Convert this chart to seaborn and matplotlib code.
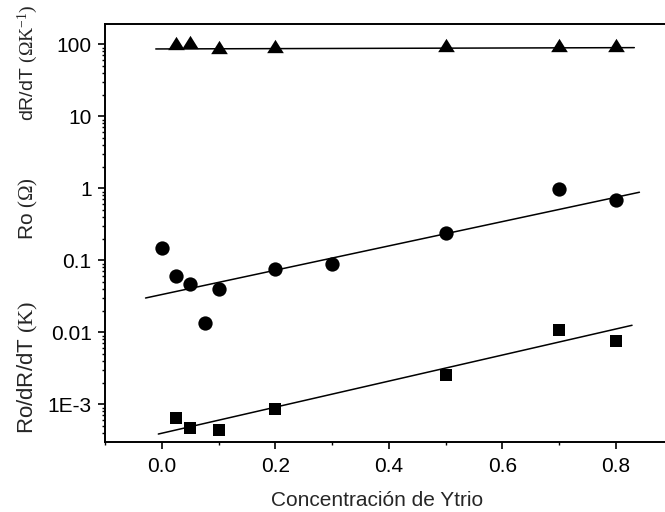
import numpy as np
import pandas as pd
import matplotlib
matplotlib.use('Agg')
import matplotlib.pyplot as plt
import seaborn as sns
from matplotlib.ticker import FixedLocator, FixedFormatter, LogLocator, NullFormatter, MultipleLocator

# ---- data ----
x_tri = [0.025, 0.05, 0.1, 0.2, 0.5, 0.7, 0.8]
y_tri = [103, 109, 92.6, 95.7, 97, 98.8, 98.5]
x_circ = [0.0, 0.025, 0.05, 0.075, 0.1, 0.2, 0.3, 0.5, 0.7, 0.8]
y_circ = [0.147, 0.0605, 0.0469, 0.0136, 0.0395, 0.0764, 0.089, 0.237, 0.986, 0.695]
x_sq = [0.025, 0.05, 0.1, 0.2, 0.5, 0.7, 0.8]
y_sq = [6.4e-4, 4.73e-4, 4.44e-4, 8.5e-4, 2.55e-3, 0.0108, 0.00757]

fit_tri_x = [-0.011, 0.833]
fit_tri_y = [86, 89.7]
fit_circ_x = [-0.029, 0.842]
fit_circ_y = [0.0299, 0.88]
fit_sq_x = [-0.0065, 0.829]
fit_sq_y = [3.86e-4, 0.0125]

ytick_vals = [1e-3, 1e-2, 1e-1, 1, 10, 100]
ytick_labels = ['1E-3', '0.01', '0.1', '1', '10', '100']
xtick_vals = [0.0, 0.2, 0.4, 0.6, 0.8]
xtick_labels = ['0.0', '0.2', '0.4', '0.6', '0.8']

xlabel = 'Concentración de Ytrio'
ylabel_top = r'dR/dT $\mathrm{(\Omega K^{-1})}$'
ylabel_mid = r'Ro $\mathrm{(\Omega)}$'
ylabel_bot = r'Ro/dR/dT $\mathrm{(K)}$'

# ---- style ----
sns.set_theme(style='ticks')
plt.rcParams['font.family'] = ['Liberation Sans', 'DejaVu Sans']
plt.rcParams['mathtext.fontset'] = 'custom'
plt.rcParams['mathtext.rm'] = 'Liberation Serif'
plt.rcParams['mathtext.it'] = 'Liberation Serif:italic'
plt.rcParams['mathtext.bf'] = 'Liberation Serif:bold'

FS = 15
W, H = 665, 512
fig = plt.figure(figsize=(W / 100, H / 100), dpi=100)
left_px, right_px, top_px, bot_px = 105.3, 672.3, 24, 441.5
ax = fig.add_axes([left_px / W, 1 - bot_px / H, (right_px - left_px) / W, (bot_px - top_px) / H])
ax.set_yscale('log')

tri_marker = [(-1, -0.8), (1, -0.8), (0, 0.8)]

df_tri = pd.DataFrame({'x': x_tri, 'y': y_tri})
df_circ = pd.DataFrame({'x': x_circ, 'y': y_circ})
df_sq = pd.DataFrame({'x': x_sq, 'y': y_sq})

for fx, fy in [(fit_tri_x, fit_tri_y), (fit_circ_x, fit_circ_y), (fit_sq_x, fit_sq_y)]:
    sns.lineplot(x=fx, y=fy, ax=ax, color='black', linewidth=1.1, estimator=None, sort=False)

sns.scatterplot(data=df_tri, x='x', y='y', ax=ax, marker=tri_marker, s=144, color='black', linewidth=0, zorder=3)
sns.scatterplot(data=df_circ, x='x', y='y', ax=ax, marker='o', s=106, color='black', linewidth=0, zorder=3)
sns.scatterplot(data=df_sq, x='x', y='y', ax=ax, marker='s', s=74, color='black', linewidth=0, zorder=3)

ax.set_xlim(-0.1, 0.9)
ax.set_ylim(3.04e-4, 191)

ax.xaxis.set_major_locator(FixedLocator(xtick_vals))
ax.xaxis.set_major_formatter(FixedFormatter(xtick_labels))
ax.xaxis.set_minor_locator(MultipleLocator(0.1))
ax.yaxis.set_major_locator(FixedLocator(ytick_vals))
ax.yaxis.set_major_formatter(FixedFormatter(ytick_labels))
ax.yaxis.set_minor_locator(LogLocator(base=10, subs=np.arange(2, 10)))
ax.yaxis.set_minor_formatter(NullFormatter())

ax.tick_params(which='major', direction='out', length=4.8, width=1.2, labelsize=FS, pad=5, colors='black')
ax.tick_params(which='minor', direction='out', length=2.5, width=1.0, colors='black')
ax.tick_params(axis='x', which='major', pad=6)
ax.tick_params(top=False, right=False, which='both')

for side in ['left', 'bottom', 'top']:
    ax.spines[side].set_visible(True)
    ax.spines[side].set_linewidth(1.4)
    ax.spines[side].set_color('black')
ax.spines['right'].set_visible(False)

ax.set_xlabel('')
ax.set_ylabel('')

fig.text(377 / W, 1 - 500 / H, xlabel, ha='center', va='center', fontsize=FS)
fig.text(28 / W, 1 - 63 / H, ylabel_top, ha='center', va='center', rotation=90, fontsize=14)
fig.text(28 / W, 1 - 209 / H, ylabel_mid, ha='center', va='center', rotation=90, fontsize=FS)
fig.text(28 / W, 1 - 367 / H, ylabel_bot, ha='center', va='center', rotation=90, fontsize=16)

fig.savefig('out.png', dpi=100)
